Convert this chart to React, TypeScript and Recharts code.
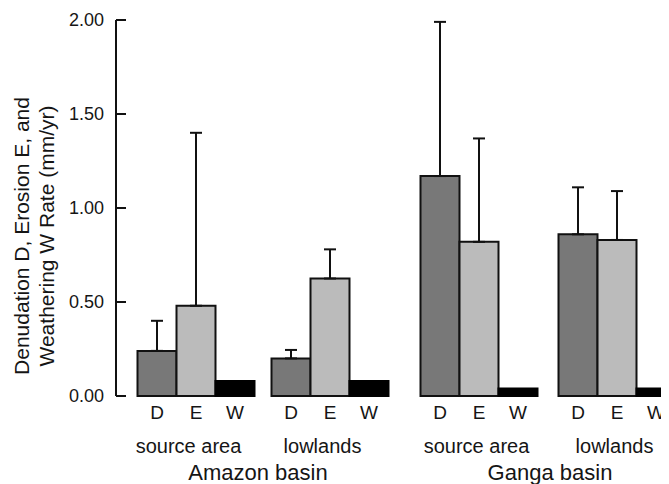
import { Bar, BarChart, ErrorBar, LabelList, XAxis, YAxis } from "recharts";

const groups = ["source area", "lowlands"];

const amazonD = [0.24, 0.2];
const amazonDTop = [0.4, 0.245];
const amazonE = [0.48, 0.625];
const amazonETop = [1.4, 0.78];
const amazonW = [0.08, 0.08];

const gangaD = [1.17, 0.86];
const gangaDTop = [1.99, 1.11];
const gangaE = [0.82, 0.83];
const gangaETop = [1.37, 1.09];
const gangaW = [0.04, 0.04];

const yTicks = [0, 0.5, 1, 1.5, 2];

const FONT = "'Liberation Sans', Arial, Helvetica, sans-serif";
const INK = "#151515";

function buildRows(d: number[], dTop: number[], e: number[], eTop: number[], w: number[]) {
  return groups.map((g, i) => ({
    group: g,
    D: d[i],
    E: e[i],
    W: w[i],
    dErr: [0, dTop[i] - d[i]],
    eErr: [0, eTop[i] - e[i]],
  }));
}

const amazonRows = buildRows(amazonD, amazonDTop, amazonE, amazonETop, amazonW);
const gangaRows = buildRows(gangaD, gangaDTop, gangaE, gangaETop, gangaW);

function YTick({ x, y, payload }: any) {
  return (
    <g>
      <text x={x} y={y} dy="0.36em" textAnchor="end" fontSize={18} fill={INK} fontFamily={FONT}>
        {Number(payload.value).toFixed(2)}
      </text>
      <line x1={x + 12} x2={x + 22} y1={y} y2={y} stroke="#111" strokeWidth={2} />
    </g>
  );
}

function GroupTick({ x, y, payload, shift = 0 }: any) {
  return (
    <text x={x + shift} y={y + 55} textAnchor="middle" fontSize={20} fill={INK} fontFamily={FONT}>
      {payload.value}
    </text>
  );
}

function YTitle() {
  return (
    <g fontFamily={FONT} fontSize={21} fill={INK}>
      <text x={29} y={236} textAnchor="middle" transform="rotate(-90, 29, 236)">
        Denudation D, Erosion E, and
      </text>
      <text x={54} y={236} textAnchor="middle" transform="rotate(-90, 54, 236)">
        Weathering W Rate (mm/yr)
      </text>
    </g>
  );
}

function Series() {
  const labelStyle = { fontSize: 19, fill: INK, fontFamily: FONT };
  return [
    <Bar key="D" dataKey="D" fill="#787878" stroke="#111" strokeWidth={2} isAnimationActive={false}>
      <ErrorBar dataKey="dErr" direction="y" width={6} stroke="#111" strokeWidth={2} isAnimationActive={false} />
      <LabelList dataKey="D" position="bottom" offset={10} formatter={() => "D"} style={labelStyle} />
    </Bar>,
    <Bar key="E" dataKey="E" fill="#bbbbbb" stroke="#111" strokeWidth={2} isAnimationActive={false}>
      <ErrorBar dataKey="eErr" direction="y" width={6} stroke="#111" strokeWidth={2} isAnimationActive={false} />
      <LabelList dataKey="E" position="bottom" offset={10} formatter={() => "E"} style={labelStyle} />
    </Bar>,
    <Bar key="W" dataKey="W" fill="#000" stroke="#000" strokeWidth={2} isAnimationActive={false}>
      <LabelList dataKey="W" position="bottom" offset={10} formatter={() => "W"} style={labelStyle} />
    </Bar>,
  ];
}

export default function App() {
  return (
    <div
      style={{
        position: "relative",
        width: 669,
        height: 484,
        overflow: "hidden",
        margin: "-8px 0 0 -8px",
        background: "#fff",
        fontFamily: FONT,
      }}
    >
      <div style={{ position: "absolute", left: 0, top: 0 }}>
        <BarChart
          width={400}
          height={484}
          data={amazonRows}
          margin={{ top: 20, right: 0, bottom: 0, left: 0 }}
          barGap={0}
          barSize={39}
        >
          <XAxis
            dataKey="group"
            height={88}
            axisLine={false}
            tickLine={false}
            tickSize={0}
            padding={{ left: 12.5, right: 3.5 }}
            tick={<GroupTick shift={-7} />}
            interval={0}
            label={{ value: "Amazon basin", position: "insideBottom", offset: 4, fontSize: 22, fill: INK, fontFamily: FONT }}
          />
          <YAxis
            width={116}
            domain={[0, 2]}
            ticks={yTicks}
            tickLine={false}
            tickSize={0}
            tickMargin={12}
            axisLine={{ stroke: "#111", strokeWidth: 2 }}
            tick={<YTick />}
            label={{ content: () => <YTitle /> }}
          />
          {Series()}
        </BarChart>
      </div>
      <div style={{ position: "absolute", left: 400, top: 0 }}>
        <BarChart
          width={300}
          height={484}
          data={gangaRows}
          margin={{ top: 20, right: 0, bottom: 0, left: 0 }}
          barGap={0}
          barSize={39}
        >
          <XAxis
            dataKey="group"
            height={88}
            axisLine={false}
            tickLine={false}
            tickSize={0}
            padding={{ left: 9.5, right: 14.5 }}
            tick={<GroupTick shift={-2} />}
            interval={0}
            label={{ value: "Ganga basin", position: "insideBottom", offset: 4, fontSize: 22, fill: INK, fontFamily: FONT }}
          />
          <YAxis hide domain={[0, 2]} ticks={yTicks} />
          {Series()}
        </BarChart>
      </div>
    </div>
  );
}
